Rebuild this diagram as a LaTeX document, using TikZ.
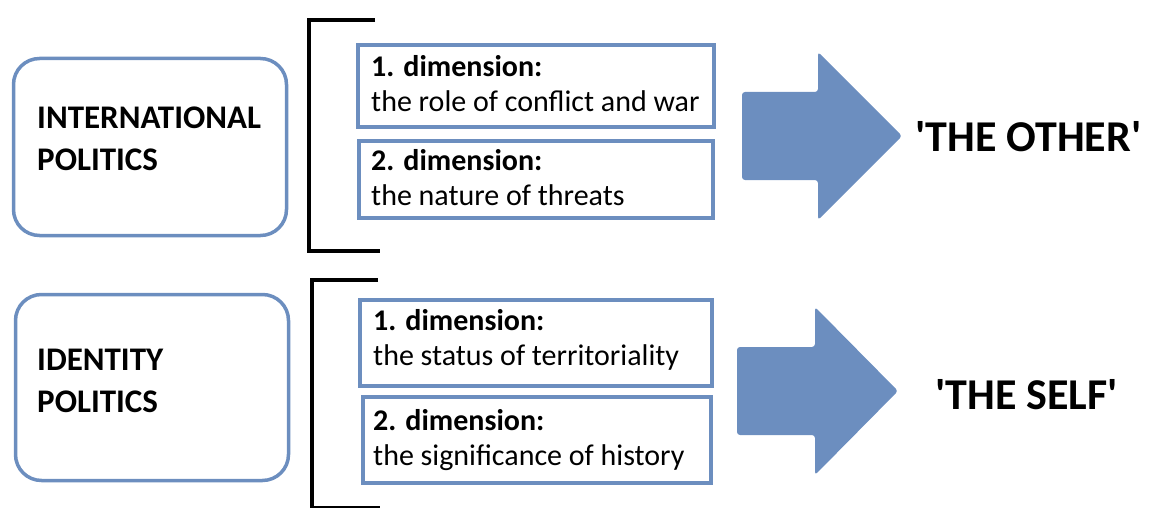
\documentclass[tikz,border=0pt]{standalone}
\usepackage{fontspec}
\newfontfamily\cali{Carlito}
\definecolor{steel}{RGB}{108,142,191}
\begin{document}
\begin{tikzpicture}[x=1pt,y=-1pt,
  groupbox/.style={draw=steel, line width=3.5pt, rounded corners=26pt, inner sep=0pt},
  dimbox/.style={draw=steel, line width=4.5pt, inner sep=0pt},
  grouptext/.style={anchor=base west, inner sep=0pt, align=left,
    font=\cali\bfseries\fontsize{33}{42}\selectfont},
  dimtext/.style={anchor=base west, inner sep=0pt, align=left,
    font=\cali\fontsize{30}{35}\selectfont},
  result/.style={anchor=base west, inner sep=0pt,
    font=\cali\bfseries\fontsize{44}{50}\selectfont},
  bracket/.style={draw=black, line width=4.5pt},
  bigarrow/.style={fill=steel, rounded corners=3pt}]
\useasboundingbox (0,0) rectangle (1151,508);
\clip (0,0) rectangle (1151,508);

% group frames on the left (text anchored on the baseline of its last line)
\node[groupbox, minimum width=273pt, minimum height=177pt] (intl) at (150,147) {};
\node[groupbox, minimum width=273pt, minimum height=186pt] (ident) at (152,387.5) {};
\node[grouptext] (intltext) at (37,170) {INTERNATIONAL\\POLITICS};
\node[grouptext] (identtext) at (37,412) {IDENTITY\\POLITICS};

% square brackets grouping the dimensions
\draw[bracket] (375,20) -- (309,20) -- (309,251) -- (380,251);
\draw[bracket] (378,280) -- (312,280) -- (312,508) -- (380,508);

% dimension boxes
\node[dimbox, minimum width=356pt, minimum height=82pt] (d1) at (536,86) {};
\node[dimbox, minimum width=354pt, minimum height=77pt] (d2) at (536,179.5) {};
\node[dimbox, minimum width=352pt, minimum height=86pt] (d3) at (536,343) {};
\node[dimbox, minimum width=348pt, minimum height=86pt] (d4) at (537,440) {};

\node[dimtext] (d1text) at (371,112) {\textbf{1. dimension:}\\the role of conflict and war};
\node[dimtext] (d2text) at (371,205) {\textbf{2. dimension:}\\the nature of threats};
\node[dimtext] (d3text) at (373,365) {\textbf{1. dimension:}\\the status of territoriality};
\node[dimtext] (d4text) at (373,465) {\textbf{2. dimension:}\\the significance of history};

% block arrows
\fill[bigarrow] (742,92) -- (818,92) -- (818,52) -- (902,136) -- (818,220) -- (818,180) -- (742,180) -- cycle;
\fill[bigarrow] (737,347) -- (815,347) -- (815,307) -- (898,391) -- (815,475) -- (815,435) -- (737,435) -- cycle;

% results
\node[result] (other) at (915,152) {'THE OTHER'};
\node[result] (self) at (935,409) {'THE SELF'};
\end{tikzpicture}
\end{document}
